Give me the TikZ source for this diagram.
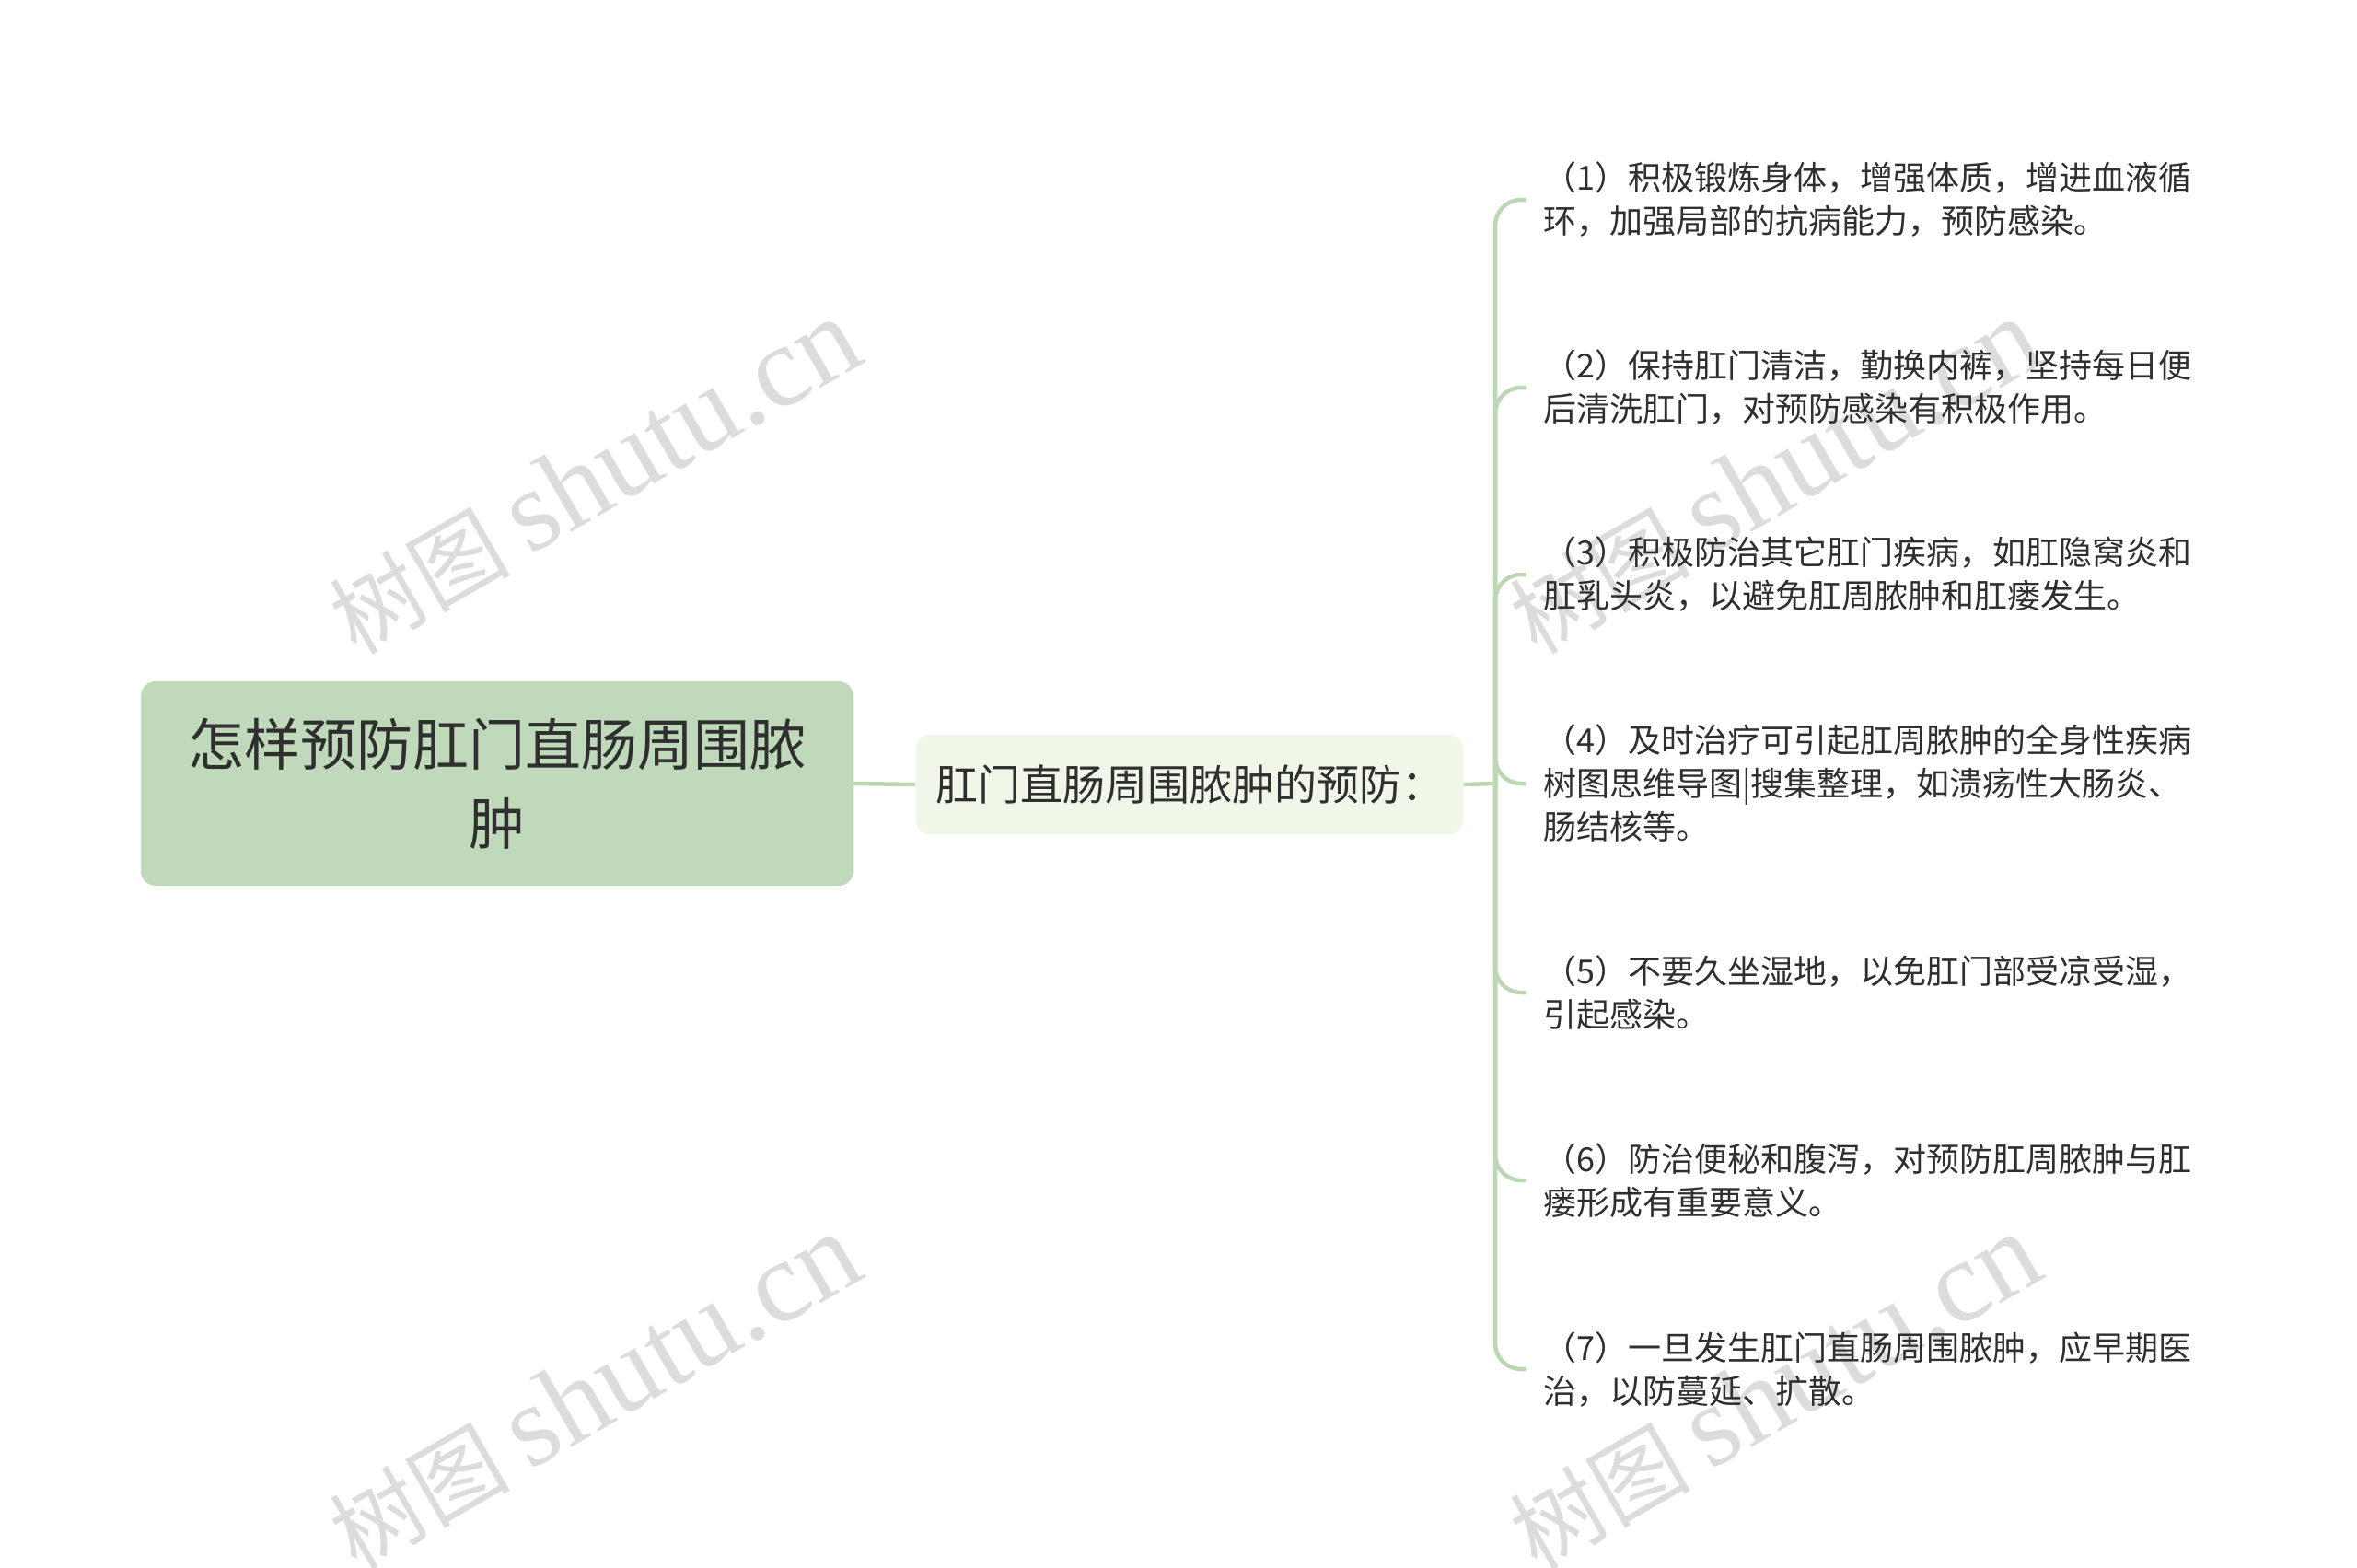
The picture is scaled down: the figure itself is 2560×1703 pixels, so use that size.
\documentclass[tikz,border=0pt]{standalone}
\usepackage{fontspec}
\setmainfont{Noto Sans CJK SC}
\newfontfamily\wmlatin{Liberation Serif}
\newfontfamily\wmcjk{Noto Sans CJK SC}
\definecolor{rootfill}{HTML}{BFD9BA}
\definecolor{midfill}{HTML}{F0F7E8}
\definecolor{linec}{HTML}{BBD7B4}
\definecolor{textdark}{HTML}{2F2F2F}
\definecolor{wmgray}{HTML}{DCDCDC}
\newcommand{\wmtext}{{\wmcjk\fontsize{98bp}{98bp}\selectfont 树图}\hspace{22bp}{\wmlatin\fontsize{126bp}{126bp}\selectfont shutu.cn}}
\begin{document}
\begin{tikzpicture}[x=1bp,y=-1bp,
  wm/.style={text=wmgray, rotate=30, inner sep=0},
  rootbox/.style={fill=rootfill, rounded corners=16bp, minimum width=774bp, minimum height=222bp, align=center, text=textdark, font=\fontsize{61bp}{86bp}\selectfont, inner sep=0},
  midbox/.style={fill=midfill, rounded corners=16bp, minimum width=595bp, minimum height=108bp, text=textdark, font=\fontsize{46bp}{54bp}\selectfont, inner sep=0},
  leafbox/.style={anchor=west, align=left, text=textdark, font=\fontsize{36bp}{47bp}\selectfont, inner xsep=19bp, inner ysep=0},
  link/.style={draw=linec, line width=4.5bp},
  branch/.style={link, rounded corners=28bp}]
\useasboundingbox (0,0) rectangle (2560,1703);
% watermarks
\node[wm] (wm1) at (645,518) {\wmtext};
\node[wm] (wm2) at (645,1512) {\wmtext};
\node[wm] (wm3) at (1927,518) {\wmtext};
\node[wm] (wm4) at (1927,1512) {\wmtext};
% nodes
\node[rootbox] (root) at (540,851) {怎样预防肛门直肠周围脓\\肿};
\node[midbox] (mid) at (1292,852) {肛门直肠周围脓肿的预防：};
\coordinate (hub) at (1624,851);
\node[leafbox] (l1) at (1657,217) {（1）积极锻炼身体，增强体质，增进血液循\\环，加强局部的抗病能力，预防感染。};
\node[leafbox] (l2) at (1657,421) {（2）保持肛门清洁，勤换内裤，坚持每日便\\后清洗肛门，对预防感染有积极作用。};
\node[leafbox] (l3) at (1657,624) {（3）积极防治其它肛门疾病，如肛隐窝炎和\\肛乳头炎，以避免肛周脓肿和肛瘘发生。};
\node[leafbox] (l4) at (1657,851) {（4）及时治疗可引起肛周脓肿的全身性疾病\\树图思维导图|搜集整理，如溃疡性大肠炎、\\肠结核等。};
\node[leafbox] (l5) at (1657,1078) {（5）不要久坐湿地，以免肛门部受凉受湿，\\引起感染。};
\node[leafbox] (l6) at (1657,1282) {（6）防治便秘和腹泻，对预防肛周脓肿与肛\\瘘形成有重要意义。};
\node[leafbox] (l7) at (1657,1487) {（7）一旦发生肛门直肠周围脓肿，应早期医\\治，以防蔓延、扩散。};
% connectors
\draw[link] (root.east) -- (mid.west);
\draw[link] (mid.east) -- (hub);
\foreach \n in {l1,l2,l3,l4,l5,l6,l7}{
  \draw[branch] (hub) |- (\n.west);
}
\end{tikzpicture}
\end{document}
